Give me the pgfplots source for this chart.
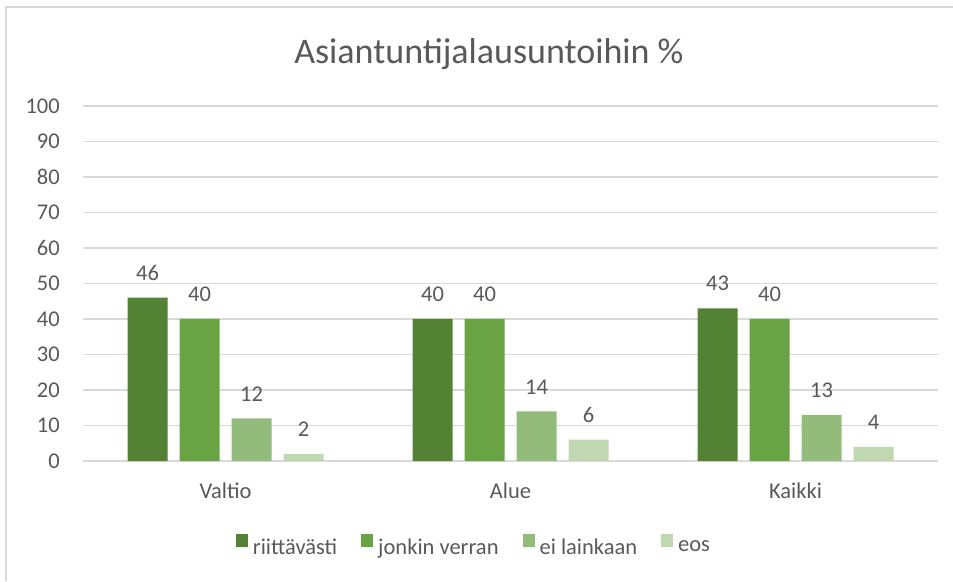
\documentclass[border=0pt]{standalone}
\usepackage{fontspec}
\setmainfont{Carlito}
\usepackage{pgfplots}
\pgfplotsset{compat=1.18}

\definecolor{cA}{HTML}{548235}
\definecolor{cB}{HTML}{69A343}
\definecolor{cC}{HTML}{93BC7C}
\definecolor{cD}{HTML}{BFD8B2}
\definecolor{txt}{HTML}{595959}
\definecolor{gridc}{HTML}{D9D9D9}

\begin{document}
\begin{tikzpicture}[x=1pt,y=1pt]
  \path[use as bounding box] (0,0) rectangle (953,581);
  \draw[gridc, line width=1.5pt] (6,0) -- (6,574) -- (953,574);
  \node[text=txt, font=\fontsize{36}{43}\selectfont] at (489,527) {Asiantuntijalausuntoihin \%};

  \begin{axis}[
      at={(83pt,120pt)}, anchor=south west,
      scale only axis, width=855pt, height=355pt,
      ybar=12pt, bar width=40pt,
      xmin=-0.5, xmax=2.5, ymin=0, ymax=100,
      xtick={0,1,2}, xticklabels={Valtio,Alue,Kaikki},
      ytick={0,10,...,100},
      axis x line*=bottom, axis y line*=left,
      y axis line style={draw=none},
      x axis line style={gridc, line width=1.5pt},
      ymajorgrids, major grid style={gridc, line width=1.5pt},
      major tick length=0pt,
      /pgf/number format/assume math mode=true,
      tick label style={text=txt, font=\fontsize{22.5}{27}\selectfont},
      yticklabel style={inner sep=0pt, xshift=-23pt},
      xticklabel style={inner sep=0pt, yshift=-22pt},
      nodes near coords,
      every node near coord/.append style={text=txt, font=\fontsize{22.5}{27}\selectfont, inner sep=0pt, yshift=17pt},
      legend columns=4,
      legend style={draw=none, fill=none, at={(391pt,-85pt)}, anchor=center,
        text=txt, font=\fontsize{22.5}{27}\selectfont,
        /tikz/every even column/.append style={column sep=22pt}},
      legend image code/.code={\fill[#1] (0pt,0pt) rectangle (12pt,13pt); \path (0pt,0pt) -- (15pt,0pt);},
    ]
    \addplot[fill=cA, draw=none] coordinates {(0,46) (1,40) (2,43)};
    \addplot[fill=cB, draw=none] coordinates {(0,40) (1,40) (2,40)};
    \addplot[fill=cC, draw=none] coordinates {(0,12) (1,14) (2,13)};
    \addplot[fill=cD, draw=none] coordinates {(0,2) (1,6) (2,4)};
    \legend{riittävästi, jonkin verran, ei lainkaan, eos}
  \end{axis}
\end{tikzpicture}
\end{document}
